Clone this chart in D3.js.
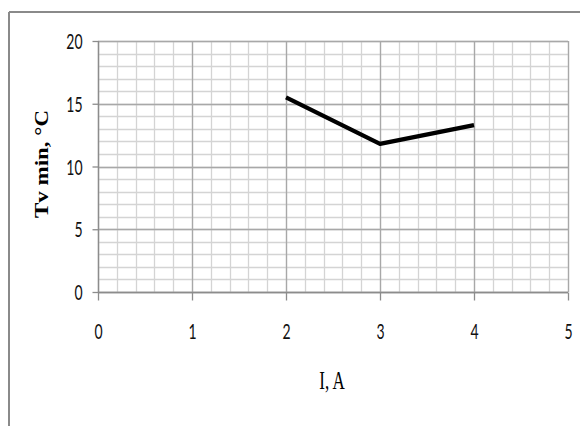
<!DOCTYPE html>
<html>
<head>
<meta charset="utf-8">
<script src="https://cdn.jsdelivr.net/npm/d3@7"></script>
<style>
  html, body { margin: 0; padding: 0; background: #fff; }
  svg { display: block; }
</style>
</head>
<body>
<svg id="chart" width="580" height="426"></svg>
<script>
// Measured minimum temperature vs current
const currents = [2, 3, 4];
const tvMin = [15.5, 11.8, 13.3];
const xTicks = [0, 1, 2, 3, 4, 5];
const yTicks = [0, 5, 10, 15, 20];

const svg = d3.select("#chart");
const W = 580, H = 426;
const stretch = 1.5; // vertical stretch of the lettering

// Outer frame (top and left edges visible)
svg.append("line").attr("x1", 9).attr("x2", W).attr("y1", 12).attr("y2", 12)
  .attr("stroke", "#8a8a8a").attr("stroke-width", 2);
svg.append("line").attr("x1", 9).attr("x2", 9).attr("y1", 12).attr("y2", H)
  .attr("stroke", "#8a8a8a").attr("stroke-width", 2);

const x = d3.scaleLinear().domain([0, 5]).range([98, 568]);
const y = d3.scaleLinear().domain([0, 20]).range([292, 41]);

const g = svg.append("g");

// Minor grid
const xMinor = d3.range(0, 5.001, 0.2);
const yMinor = d3.range(0, 20.001, 1);
g.selectAll(".vminor").data(xMinor).join("line")
  .attr("x1", d => Math.round(x(d)) + 0.5).attr("x2", d => Math.round(x(d)) + 0.5)
  .attr("y1", y(20)).attr("y2", y(0))
  .attr("stroke", "#d4d4d4").attr("stroke-width", 1.3);
g.selectAll(".hminor").data(yMinor).join("line")
  .attr("y1", d => Math.round(y(d)) + 0.5).attr("y2", d => Math.round(y(d)) + 0.5)
  .attr("x1", x(0)).attr("x2", x(5))
  .attr("stroke", "#d4d4d4").attr("stroke-width", 1.3);

// Major grid
g.selectAll(".vmajor").data(xTicks).join("line")
  .attr("x1", d => Math.round(x(d)) + 0.5).attr("x2", d => Math.round(x(d)) + 0.5)
  .attr("y1", y(20)).attr("y2", y(0))
  .attr("stroke", "#a8a8a8").attr("stroke-width", 1.3);
g.selectAll(".hmajor").data(yTicks).join("line")
  .attr("y1", d => Math.round(y(d)) + 0.5).attr("y2", d => Math.round(y(d)) + 0.5)
  .attr("x1", x(0)).attr("x2", x(5))
  .attr("stroke", "#a8a8a8").attr("stroke-width", 1.3);

// Axes
const xAxis = d3.axisBottom(x).tickValues(xTicks).tickSize(8).tickFormat(d3.format("d"));
const yAxis = d3.axisLeft(y).tickValues(yTicks).tickSize(6).tickFormat(d3.format("d"));

const gx = svg.append("g").attr("transform", `translate(0,${Math.round(y(0)) + 0.5})`).call(xAxis);
const gy = svg.append("g").attr("transform", `translate(${Math.round(x(0)) + 0.5},0)`).call(yAxis);
[gx, gy].forEach(a => {
  a.select(".domain").attr("stroke", "#8c8c8c").attr("stroke-width", 1.3);
  a.selectAll(".tick line").attr("stroke", "#8c8c8c").attr("stroke-width", 1.3);
  a.selectAll(".tick text")
    .attr("fill", "#111")
    .attr("x", 0).attr("y", 0).attr("dy", "0.36em")
    .style("font-family", "Lato, 'Open Sans', sans-serif")
    .style("font-size", "14px");
});
gx.selectAll(".tick text").attr("transform", `translate(0,39) scale(1,${stretch})`);
gy.selectAll(".tick text").attr("text-anchor", "end")
  .attr("transform", `translate(-16,0) scale(1,${stretch})`);
gx.select(".domain").attr("d", `M${x(0)},0H${x(5)}`);
gy.select(".domain").attr("d", `M0,${y(20)}V${y(0)}`);

// Data line
const line = d3.line().x(d => x(d[0])).y(d => y(d[1]));
svg.append("path")
  .datum(currents.map((c, i) => [c, tvMin[i]]))
  .attr("d", line)
  .attr("fill", "none")
  .attr("stroke", "#000")
  .attr("stroke-width", 4.2)
  .attr("stroke-linejoin", "round");

// Axis titles
svg.append("text")
  .attr("transform", `translate(332,389) scale(1,${stretch})`)
  .attr("text-anchor", "middle")
  .style("font-family", "'Liberation Serif', 'Times New Roman', serif")
  .style("font-size", "17px")
  .attr("fill", "#000")
  .text("I, A");

svg.append("text")
  .attr("transform", `translate(48,164) rotate(-90) scale(${stretch * 0.85},1)`)
  .attr("text-anchor", "middle")
  .style("font-family", "'Liberation Serif', 'Times New Roman', serif")
  .style("font-size", "18px")
  .style("font-weight", "bold")
  .attr("fill", "#000")
  .text("Tv min, °C");
</script>
</body>
</html>
